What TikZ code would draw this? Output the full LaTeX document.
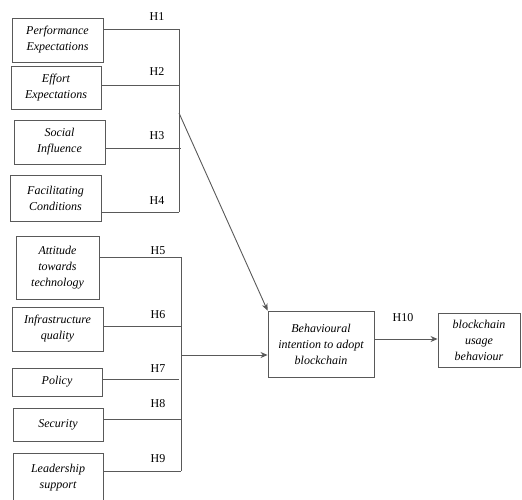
\documentclass[tikz,border=0pt]{standalone}
\usepackage{fontspec}
\setmainfont{Liberation Serif}
\usetikzlibrary{arrows.meta}
\definecolor{linec}{gray}{0.35}
\tikzset{
  box/.style={draw=linec, line width=0.9pt, align=center, inner sep=1pt,
    font=\fontsize{12}{16}\selectfont\itshape},
  hlab/.style={font=\fontsize{12}{14}\selectfont, inner sep=0pt},
  conn/.style={draw=linec, line width=0.9pt},
  arr/.style={conn, -{Stealth[length=7pt,width=6pt]}}
}
\begin{document}
\begin{tikzpicture}[x=1pt,y=-1pt]
\useasboundingbox (0,0) rectangle (522,499);
% left boxes group 1
\node[box, minimum width=91pt, minimum height=44pt] (pe) at (57.5,40) {Performance\\Expectations};
\node[box, minimum width=90pt, minimum height=43pt] (ee) at (56,87.5) {Effort\\Expectations};
\node[box, minimum width=91pt, minimum height=44pt] (si) at (59.5,142) {Social\\Influence};
\node[box, minimum width=91pt, minimum height=46pt] (fc) at (55.5,198) {Facilitating\\Conditions};
% left boxes group 2
\node[box, minimum width=83pt, minimum height=63pt] (at) at (57.5,267.5) {Attitude\\towards\\technology};
\node[box, minimum width=91pt, minimum height=44pt] (iq) at (57.5,329) {Infrastructure\\quality};
\node[box, minimum width=90pt, minimum height=28pt] (po) at (57,382) {Policy};
\node[box, minimum width=90pt, minimum height=33pt] (se) at (58,424.5) {Security};
\node[box, minimum width=90pt, minimum height=50pt] (ls) at (58,478) {Leadership\\support};
% right boxes
\node[box, minimum width=106pt, minimum height=66pt] (bi) at (321,344) {Behavioural\\intention to adopt\\blockchain};
\node[box, minimum width=82pt, minimum height=54pt] (bu) at (479,340) {blockchain\\usage\\behaviour};
% bar coordinates
\coordinate (a1) at (179,29);
\coordinate (a2) at (179,85);
\coordinate (a3) at (181,148);
\coordinate (a4) at (179,212);
\coordinate (am) at (179,113);
\coordinate (b5) at (181,257);
\coordinate (b6) at (181,326);
\coordinate (b7) at (179,379);
\coordinate (b8) at (181,419);
\coordinate (b9) at (181,471);
\coordinate (bm) at (181,355);
% group 1 connectors
\draw[conn] (pe.east |- a1) -- (a1);
\draw[conn] (ee.east |- a2) -- (a2);
\draw[conn] (si.east |- a3) -- (a3);
\draw[conn] (fc.east |- a4) -- (a4);
\draw[conn] (a1) -- (a4);
\draw[arr] (am) -- (bi.north west);
% group 2 connectors
\draw[conn] (at.east |- b5) -- (b5);
\draw[conn] (iq.east |- b6) -- (b6);
\draw[conn] (po.east |- b7) -- (b7);
\draw[conn] (se.east |- b8) -- (b8);
\draw[conn] (ls.east |- b9) -- (b9);
\draw[conn] (b5) -- (b9);
\draw[arr] (bm) -- (bi.west |- bm);
\draw[arr] (bi.east |- 0,339) -- (bu.west |- 0,339);
% labels
\node[hlab] (h1) at (157,17) {H1};
\node[hlab] (h2) at (157,72) {H2};
\node[hlab] (h3) at (157,136) {H3};
\node[hlab] (h4) at (157,201) {H4};
\node[hlab] (h5) at (158,251) {H5};
\node[hlab] (h6) at (158,315) {H6};
\node[hlab] (h7) at (158,369) {H7};
\node[hlab] (h8) at (158,404) {H8};
\node[hlab] (h9) at (158,459) {H9};
\node[hlab] (h10) at (403,318) {H10};
\end{tikzpicture}
\end{document}
